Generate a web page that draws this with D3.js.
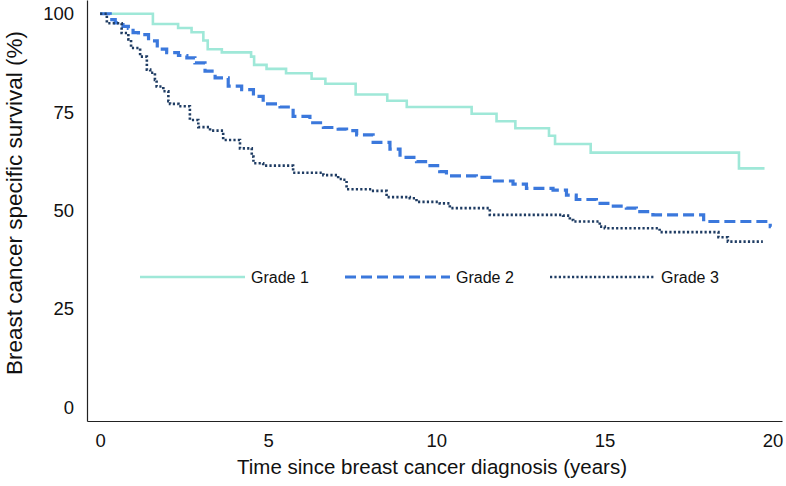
<!DOCTYPE html>
<html>
<head>
<meta charset="utf-8">
<script src="https://cdn.jsdelivr.net/npm/d3@7"></script>
<style>
  html, body { margin: 0; padding: 0; background: #fff; }
  svg { display: block; font-family: "Liberation Sans", Arial, Helvetica, sans-serif; }
</style>
</head>
<body>
<svg id="chart" width="786" height="486"></svg>
<script>
// ---- Data (time in years, survival in %) ----
const seriesNames = ["Grade 1", "Grade 2", "Grade 3"];
const xTicks = [0, 5, 10, 15, 20];
const yTicks = [0, 25, 50, 75, 100];

const grade1 = [
  [0, 100], [1.57, 97.4], [2.32, 96.4], [2.72, 95.3], [3.07, 93.2], [3.2, 91.0],
  [3.62, 90.2], [4.49, 89.1], [4.58, 87.0], [4.95, 86.0], [5.53, 84.9], [6.29, 83.5],
  [6.7, 82.2], [7.6, 79.5], [8.54, 77.9], [9.12, 76.3], [11.05, 74.6], [11.79, 72.7],
  [12.35, 70.9], [13.35, 69.0], [13.53, 66.9], [14.59, 64.7], [19.0, 60.7], [19.76, 60.7]
];
const grade2 = [
  [0, 100], [0.30, 98.5], [0.45, 97.7], [0.68, 96.8], [0.84, 96.3], [0.98, 95.2],
  [1.14, 94.7], [1.44, 93.1], [1.70, 91.0], [1.98, 90.1], [2.33, 89.4], [2.58, 88.8],
  [2.82, 87.5], [3.12, 85.4], [3.42, 83.7], [3.81, 81.6], [4.21, 80.7], [4.56, 79.0],
  [4.85, 77.1], [5.35, 76.3], [5.74, 73.9], [6.24, 72.3], [6.64, 71.1], [7.08, 70.7],
  [7.33, 70.3], [7.63, 69.2], [8.12, 67.3], [8.62, 65.6], [8.92, 63.5], [9.41, 62.4],
  [9.81, 61.4], [10.10, 59.9], [10.30, 58.8], [11.19, 58.4], [11.64, 57.5], [12.28, 56.7],
  [12.68, 55.6], [13.47, 55.2], [13.87, 53.9], [14.16, 52.8], [14.76, 51.8], [15.16, 51.1],
  [15.65, 50.6], [15.95, 49.7], [16.44, 48.9], [17.95, 47.2], [19.93, 45.9], [19.95, 45.9]
];
const grade3 = [
  [0, 100], [0.2, 97.6], [0.64, 95.1], [0.84, 93.5], [0.92, 91.3], [1.19, 89.1],
  [1.39, 85.8], [1.49, 85.0], [1.63, 83.2], [1.68, 81.5], [1.88, 80.3], [2.03, 77.8],
  [2.08, 77.1], [2.33, 76.5], [2.67, 73.0], [2.92, 71.2], [3.27, 70.3], [3.66, 67.9],
  [4.16, 65.8], [4.51, 63.7], [4.56, 62.0], [4.85, 61.4], [5.74, 59.6], [6.64, 59.0],
  [7.08, 58.0], [7.23, 57.8], [7.33, 55.4], [8.07, 55.0], [8.52, 53.4], [9.21, 53.1],
  [9.41, 52.2], [10.10, 51.8], [10.40, 50.6], [11.09, 50.6], [11.59, 48.9], [13.77, 48.7],
  [13.97, 47.6], [14.07, 47.2], [14.86, 45.9], [15.01, 45.5], [16.64, 44.5], [18.39, 43.2],
  [18.67, 42.1], [19.71, 42.1]
];

// ---- Layout ----
const svg = d3.select("#chart");
const x = d3.scaleLinear().domain([-0.39, 20.28]).range([87, 782]);
const y = d3.scaleLinear().domain([-3.5, 103.5]).range([421, 0]);

const styles = [
  { data: grade1, color: "#9fe8d8", width: 2.6, dash: null },
  { data: grade2, color: "#3b78dc", width: 3.2, dash: "11,5" },
  { data: grade3, color: "#1f3c63", width: 2.6, dash: "2.2,2.2" }
];

// Axes
const yAxis = d3.axisLeft(y).tickValues(yTicks).tickSize(0).tickPadding(13).tickFormat(d3.format("d"));
const xAxis = d3.axisBottom(x).tickValues(xTicks).tickSize(0).tickPadding(13).tickFormat(d3.format("d"));

const gy = svg.append("g").attr("transform", "translate(87,0)").call(yAxis);
const gx = svg.append("g").attr("transform", "translate(0,421)").call(xAxis);
[gx, gy].forEach(g => {
  g.select(".domain").attr("stroke", "#222").attr("stroke-width", 1.2);
  g.selectAll("text").attr("font-size", 18.5).attr("fill", "#111")
    .attr("font-family", "'Liberation Sans', Arial, sans-serif");
});

// Axis titles
svg.append("text")
  .attr("x", 432).attr("y", 474)
  .attr("text-anchor", "middle")
  .attr("font-size", 20.5).attr("fill", "#111")
  .text("Time since breast cancer diagnosis (years)");

svg.append("text")
  .attr("transform", "translate(22,203) rotate(-90)")
  .attr("text-anchor", "middle")
  .attr("font-size", 22.5).attr("fill", "#111")
  .text("Breast cancer specific survival (%)");

// Curves
const line = d3.line().x(d => x(d[0])).y(d => y(d[1])).curve(d3.curveStepAfter);
styles.forEach(s => {
  svg.append("path")
    .datum(s.data)
    .attr("fill", "none")
    .attr("stroke", s.color)
    .attr("stroke-width", s.width)
    .attr("stroke-dasharray", s.dash)
    .attr("d", line);
});

// Legend
const legendX = [140, 345, 550];
const legendY = 277;
styles.forEach((s, i) => {
  svg.append("line")
    .attr("x1", legendX[i]).attr("x2", legendX[i] + 105)
    .attr("y1", legendY).attr("y2", legendY)
    .attr("stroke", s.color)
    .attr("stroke-width", s.width)
    .attr("stroke-dasharray", s.dash);
  svg.append("text")
    .attr("x", legendX[i] + 111).attr("y", legendY + 6)
    .attr("font-size", 16).attr("fill", "#111")
    .text(seriesNames[i]);
});
</script>
</body>
</html>
